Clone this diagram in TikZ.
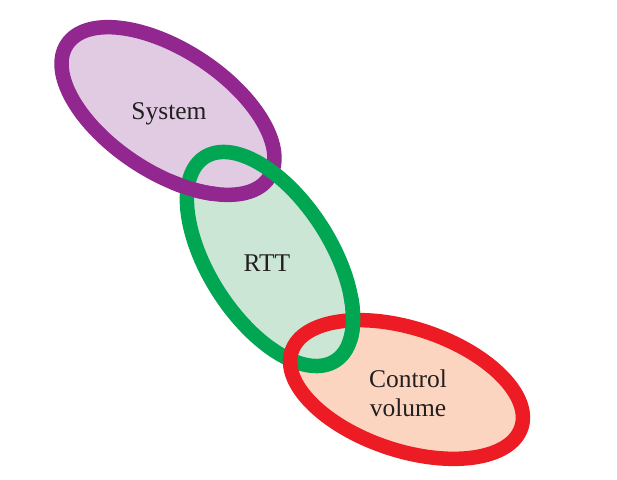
\documentclass[tikz,border=0pt]{standalone}
\usepackage{fontspec}
\setmainfont{Liberation Serif}
\definecolor{morado}{HTML}{92278F}
\definecolor{moradoclaro}{HTML}{E0CBE3}
\definecolor{verde}{HTML}{00A651}
\definecolor{verdeclaro}{HTML}{CCE6D6}
\definecolor{rojo}{HTML}{ED1C24}
\definecolor{durazno}{HTML}{FCD5C0}
\definecolor{tinta}{HTML}{231F20}
\tikzset{
  anillo/.style={line width=14.5pt},
  rotulo/.style={font=\fontsize{25.5}{29}\selectfont, text=tinta, align=center},
  ovsis/.style={rotate around={-33.4:(sis)}},
  ovrtt/.style={rotate around={-57.3:(rtt)}},
  ovcv/.style={rotate around={-18.4:(cv)}}
}

\begin{document}
\begin{tikzpicture}[x=1pt,y=1pt]
  \useasboundingbox (0,0) rectangle (617,479);
  \coordinate (sis) at (168,368);
  \coordinate (rtt) at (270,220);
  \coordinate (cv) at (406.5,89.5);
  % rellenos
  \fill [durazno, ovcv] (cv) ellipse [x radius=121pt, y radius=61pt];
  \fill [verdeclaro, ovrtt] (rtt) ellipse [x radius=121pt, y radius=61pt];
  \fill [moradoclaro, ovsis] (sis) ellipse [x radius=121pt, y radius=61pt];
  % anillos
  \draw [anillo, morado, ovsis] (sis) ellipse [x radius=121pt, y radius=61pt];
  \draw [anillo, verde, ovrtt] (rtt) ellipse [x radius=121pt, y radius=61pt];
  \draw [anillo, rojo, ovcv] (cv) ellipse [x radius=121pt, y radius=61pt];
  % cruces entrelazados
  \begin{scope}
    \clip (193,292) circle (24pt);
    \draw [anillo, morado, ovsis] (sis) ellipse [x radius=121pt, y radius=61pt];
  \end{scope}
  \begin{scope}
    \clip (350,159) circle (24pt);
    \draw [anillo, verde, ovrtt] (rtt) ellipse [x radius=121pt, y radius=61pt];
  \end{scope}
  \node (system) [rotulo] at (169,365) {System};
  \node (rttlab) [rotulo] at (267,216) {RTT};
  \node (control) [rotulo] at (408,86) {Control\\volume};
\end{tikzpicture}
\end{document}
